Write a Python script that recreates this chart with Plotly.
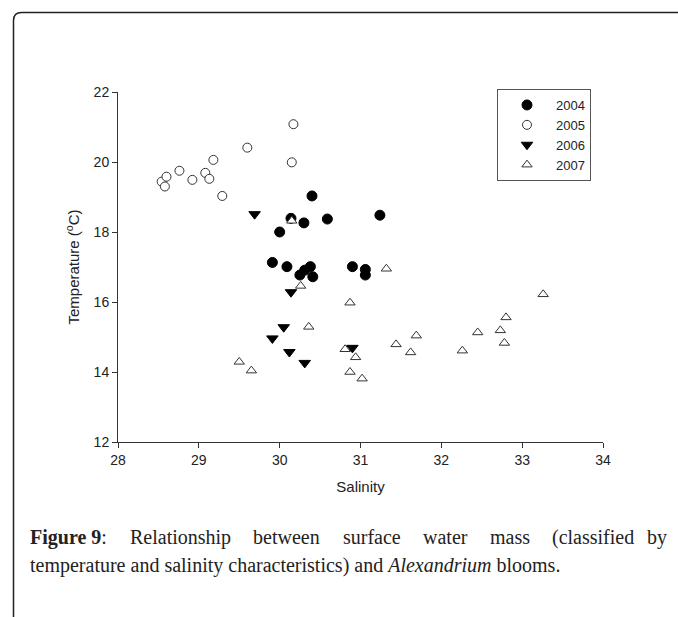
import plotly.graph_objects as go

# ---- data ----
sal_2004 = [30.40, 30.14, 30.30, 30.59, 31.24, 30.00, 29.91, 30.09, 30.38, 30.31, 30.25, 30.41, 30.90, 31.06, 31.06]
temp_2004 = [19.03, 18.39, 18.26, 18.37, 18.48, 18.00, 17.13, 17.01, 17.01, 16.91, 16.77, 16.72, 17.01, 16.93, 16.77]

sal_2005 = [28.54, 28.60, 28.58, 28.76, 28.92, 29.08, 29.13, 29.18, 29.29, 29.60, 30.17, 30.15]
temp_2005 = [19.44, 19.58, 19.30, 19.75, 19.49, 19.69, 19.52, 20.06, 19.03, 20.41, 21.08, 19.99]

sal_2006 = [29.69, 30.14, 30.05, 29.91, 30.12, 30.31, 30.90]
temp_2006 = [18.51, 16.28, 15.28, 14.96, 14.57, 14.26, 14.69]

sal_2007 = [31.32, 30.26, 30.87, 30.36, 29.50, 29.65, 30.81, 30.94, 30.87, 31.02, 31.44, 31.69,
            31.62, 33.26, 32.80, 32.45, 32.73, 32.78, 32.26, 30.15]
temp_2007 = [16.95, 16.46, 15.98, 15.29, 14.29, 14.04, 14.65, 14.42, 14.00, 13.81, 14.79, 15.04,
             14.56, 16.22, 15.56, 15.13, 15.19, 14.83, 14.61, 18.32]

x_ticks = [28, 29, 30, 31, 32, 33, 34]
y_ticks = [12, 14, 16, 18, 20, 22]

# ---- layout geometry (pixels) ----
W, H = 678, 617
L, R, T, B = 118, 603, 92, 442


def px(xp):
    return (xp - L) / (R - L)


def py(yp):
    return (B - yp) / (B - T)


fig = go.Figure()
fig.add_trace(go.Scatter(x=sal_2004, y=temp_2004, mode="markers", name="2004",
                         marker=dict(symbol="circle", size=10, color="black",
                                     line=dict(color="black", width=1))))
fig.add_trace(go.Scatter(x=sal_2005, y=temp_2005, mode="markers", name="2005",
                         marker=dict(symbol="circle", size=9, color="white",
                                     line=dict(color="#333333", width=1))))
fig.add_trace(go.Scatter(x=sal_2006, y=temp_2006, mode="markers", name="2006",
                         marker=dict(symbol="triangle-down", size=10, color="black",
                                     line=dict(color="black", width=1))))
fig.add_trace(go.Scatter(x=sal_2007, y=temp_2007, mode="markers", name="2007",
                         marker=dict(symbol="triangle-up", size=9, color="white",
                                     line=dict(color="#333333", width=1))))

sans = "Liberation Sans, Arial, sans-serif"
axis_font = dict(family=sans, size=14, color="#222222")

fig.update_xaxes(range=[28, 34], tickvals=x_ticks, ticks="outside", ticklen=5, tickwidth=1,
                 tickcolor="#333", showline=True, linecolor="#333", linewidth=1,
                 showgrid=False, zeroline=False, tickfont=axis_font,
                 title=dict(text="Salinity", font=dict(family=sans, size=15, color="#222"),
                            standoff=14))
fig.update_yaxes(range=[12, 22], tickvals=y_ticks, ticks="outside", ticklen=5, tickwidth=1,
                 tickcolor="#333", showline=True, linecolor="#333", linewidth=1,
                 showgrid=False, zeroline=False, tickfont=axis_font,
                 title=dict(text="Temperature (<sup>o</sup>C)",
                            font=dict(family=sans, size=15, color="#222"),
                            standoff=10))

# frame with rounded corner
r = 8
fx, fy = 13.5, 12.5
path = (f"M {px(fx)},{py(H + 5)} L {px(fx)},{py(fy + r)} "
        f"Q {px(fx)},{py(fy)} {px(fx + r)},{py(fy)} L {px(W + 5)},{py(fy)}")
shapes = [dict(type="path", xref="paper", yref="paper", path=path,
               line=dict(color="#222222", width=1.5))]

# caption (justified first line, word by word)
cap_font = dict(family="Liberation Serif, Times New Roman, serif", size=20, color="#222222")
line1 = [("<b>Figure 9</b>:", 28), ("Relationship", 127.6), ("between", 251.3), ("surface", 340.5),
         ("water", 420.8), ("mass", 487.8), ("(classified", 550.4), ("by", 645.2)]
annotations = []
for txt, xpos in line1:
    annotations.append(dict(text=txt, x=px(xpos), y=py(537), xref="paper", yref="paper",
                            xanchor="left", yanchor="middle", showarrow=False, font=cap_font))
annotations.append(dict(text="temperature and salinity characteristics) and <i>Alexandrium</i> blooms.",
                        x=px(28), y=py(565), xref="paper", yref="paper", xanchor="left",
                        yanchor="middle", showarrow=False, font=cap_font))

fig.update_layout(
    width=W, height=H,
    margin=dict(l=L, r=W - R, t=T, b=H - B, pad=0),
    paper_bgcolor="white", plot_bgcolor="white",
    showlegend=True,
    legend=dict(x=px(497), y=py(89), xanchor="left", yanchor="top",
                bordercolor="#555555", borderwidth=1, bgcolor="white",
                font=dict(family=sans, size=13, color="#222"),
                itemwidth=48, entrywidth=90, entrywidthmode="pixels"),
    shapes=shapes,
    annotations=annotations,
)

fig.write_html("out.html")
